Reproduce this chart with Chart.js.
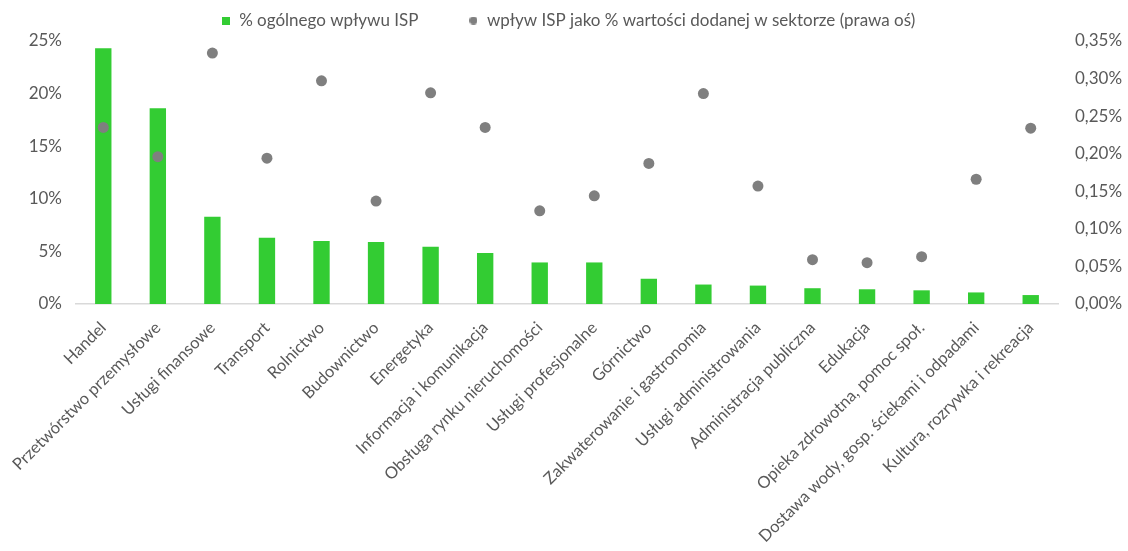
<!DOCTYPE html>
<html lang="pl">
<head>
<meta charset="utf-8">
<script src="https://cdn.jsdelivr.net/npm/chart.js@4/dist/chart.umd.min.js"></script>
<style>
  html, body { margin: 0; padding: 0; background: #ffffff; }
  #wrap { width: 1128px; height: 551px; position: relative; }
</style>
</head>
<body>
<div id="wrap"><canvas id="chart"></canvas></div>
<script>
// Sectors, sorted by their share of the total ISP impact
const sectors = [
  'Handel',
  'Przetwórstwo przemysłowe',
  'Usługi finansowe',
  'Transport',
  'Rolnictwo',
  'Budownictwo',
  'Energetyka',
  'Informacja i komunikacja',
  'Obsługa rynku nieruchomości',
  'Usługi profesjonalne',
  'Górnictwo',
  'Zakwaterowanie i gastronomia',
  'Usługi administrowania',
  'Administracja publiczna',
  'Edukacja',
  'Opieka zdrowotna, pomoc społ.',
  'Dostawa wody, gosp. ściekami i odpadami',
  'Kultura, rozrywka i rekreacja'
];

// % of the total ISP impact (left axis)
const shareOfTotal = [24.3, 18.6, 8.3, 6.3, 6.0, 5.9, 5.45, 4.85, 3.95, 3.95, 2.4, 1.85, 1.75, 1.5, 1.4, 1.3, 1.1, 0.85];

// ISP impact as % of the sector's value added (right axis)
const shareOfValueAdded = [0.235, 0.196, 0.334, 0.194, 0.297, 0.137, 0.281, 0.235, 0.124, 0.144, 0.187, 0.280, 0.157, 0.059, 0.055, 0.063, 0.166, 0.234];

// Axis tick values
const leftTicks = [0, 5, 10, 15, 20, 25];
const rightTicks = [0, 0.05, 0.10, 0.15, 0.20, 0.25, 0.30, 0.35];

const seriesNames = ['% ogólnego wpływu ISP', 'wpływ ISP jako % wartości dodanej w sektorze (prawa oś)'];

const GREEN = '#33cc33';
const GREY_DOT = '#7f7f7f';
const TEXT = '#595959';
const FONT = 'Lato, "Open Sans", sans-serif';

// Small legend markers: a square for the bars, a dot for the points
function marker(kind, size, color) {
  const c = document.createElement('canvas');
  c.width = size; c.height = size;
  const g = c.getContext('2d');
  g.fillStyle = color;
  if (kind === 'rect') {
    g.fillRect(0, 0, size, size);
  } else {
    g.beginPath();
    g.arc(size / 2, size / 2, size / 2, 0, Math.PI * 2);
    g.fill();
  }
  return c;
}
const legendMarkers = [marker('rect', 8, GREEN), marker('circle', 8, GREY_DOT)];

// Fix the legend band height and lift its row to the top edge
const legendPlacement = {
  id: 'legendPlacement',
  beforeInit(chart) {
    const legend = chart.legend;
    const fit = legend.fit;
    legend.fit = function () { fit.call(this); this.height = 41; };
  },
  afterLayout(chart) {
    chart.legend.top = -38;
    chart.legend.left = 8;
  }
};

new Chart(document.getElementById('chart'), {
  data: {
    labels: sectors,
    datasets: [
      {
        type: 'bar',
        label: seriesNames[0],
        data: shareOfTotal,
        backgroundColor: GREEN,
        borderWidth: 0,
        yAxisID: 'y',
        order: 1,
        barPercentage: 0.30,
        categoryPercentage: 1
      },
      {
        type: 'line',
        label: seriesNames[1],
        data: shareOfValueAdded,
        showLine: false,
        pointStyle: 'circle',
        pointRadius: 5.5,
        pointHoverRadius: 5.5,
        pointBackgroundColor: GREY_DOT,
        pointBorderWidth: 0,
        borderColor: GREY_DOT,
        yAxisID: 'y1',
        order: 0
      }
    ]
  },
  options: {
    responsive: true,
    maintainAspectRatio: false,
    animation: false,
    events: [],
    layout: { padding: { top: 0, bottom: 0, left: 0, right: 0 } },
    plugins: {
      tooltip: { enabled: false },
      legend: {
        display: true,
        position: 'top',
        labels: {
          usePointStyle: true,
          boxWidth: 10,
          boxHeight: 10,
          padding: 50,
          color: TEXT,
          font: { family: FONT, size: 17 },
          sort: (a, b) => a.datasetIndex - b.datasetIndex,
          generateLabels(chart) {
            return chart.data.datasets.map((ds, i) => ({
              text: ds.label,
              fillStyle: i === 0 ? GREEN : GREY_DOT,
              strokeStyle: i === 0 ? GREEN : GREY_DOT,
              lineWidth: 0,
              pointStyle: legendMarkers[i],
              fontColor: TEXT,
              hidden: false,
              datasetIndex: i
            }));
          }
        }
      }
    },
    scales: {
      x: {
        type: 'category',
        grid: { display: false, drawTicks: false },
        border: { display: true, color: '#d9d9d9', width: 1.5 },
        ticks: {
          color: TEXT,
          font: { family: FONT, size: 16.5 },
          minRotation: 45,
          maxRotation: 45,
          autoSkip: false,
          padding: 14
        },
        afterFit(scale) { scale.height = 247; }
      },
      y: {
        type: 'linear',
        position: 'left',
        min: 0,
        max: 25,
        grid: { display: false, drawTicks: false },
        border: { display: false },
        afterBuildTicks(scale) { scale.ticks = leftTicks.map(v => ({ value: v })); },
        ticks: {
          color: TEXT,
          font: { family: FONT, size: 17 },
          padding: 14,
          callback: v => v + '%'
        },
        afterFit(scale) { scale.width = 76; }
      },
      y1: {
        type: 'linear',
        position: 'right',
        min: 0,
        max: 0.35,
        grid: { display: false, drawTicks: false },
        border: { display: false },
        afterBuildTicks(scale) { scale.ticks = rightTicks.map(v => ({ value: v })); },
        ticks: {
          color: TEXT,
          font: { family: FONT, size: 17 },
          padding: 17,
          callback: v => v.toFixed(2).replace('.', ',') + '%'
        },
        afterFit(scale) { scale.width = 70; }
      }
    }
  },
  plugins: [legendPlacement]
});
</script>
</body>
</html>
